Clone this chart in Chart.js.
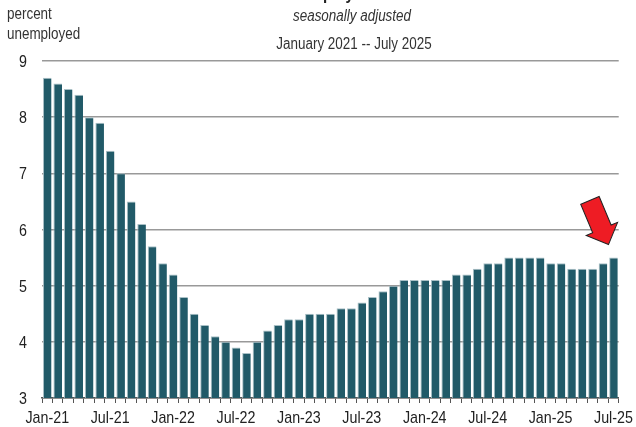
<!DOCTYPE html>
<html>
<head>
<meta charset="utf-8">
<script src="https://cdn.jsdelivr.net/npm/chart.js@4.4.1/dist/chart.umd.min.js"></script>
<style>
  html, body { margin: 0; padding: 0; background: #fff; }
  #wrap { width: 636px; height: 427px; position: relative; }
</style>
</head>
<body>
<div id="wrap"><canvas id="myChart" width="636" height="427"></canvas></div>
<script>
const FONT = "'Liberation Sans', Arial, sans-serif";
const NARROW = 0.84; // squeeze factor to imitate a narrow face

// monthly labels Jan-21 .. Jul-25
const months = ["Jan", "Feb", "Mar", "Apr", "May", "Jun", "Jul", "Aug", "Sep", "Oct", "Nov", "Dec"];
const years = ["21", "22", "23", "24", "25"];
const labels = [];
years.forEach(y => months.forEach(m => labels.push(m + "-" + y)));
labels.length = 55;

// unemployment rate, percent
const rates = [
  8.7, 8.6, 8.5, 8.4, 8.0, 7.9, 7.4, 7.0, 6.5, 6.1, 5.7, 5.4,
  5.2, 4.8, 4.5, 4.3, 4.1, 4.0, 3.9, 3.8, 4.0, 4.2, 4.3, 4.4,
  4.4, 4.5, 4.5, 4.5, 4.6, 4.6, 4.7, 4.8, 4.9, 5.0, 5.1, 5.1,
  5.1, 5.1, 5.1, 5.2, 5.2, 5.3, 5.4, 5.4, 5.5, 5.5, 5.5, 5.5,
  5.4, 5.4, 5.3, 5.3, 5.3, 5.4, 5.5
];

const yTicks = [3, 4, 5, 6, 7, 8, 9];

const ctx = document.getElementById("myChart").getContext("2d");

function narrowText(c, text, x, y, align, font) {
  c.save();
  c.font = font;
  c.textAlign = align;
  c.translate(x, y);
  c.scale(NARROW, 1);
  c.fillText(text, 0, 0);
  c.restore();
}

// texts (narrow look) and the red arrow on the latest month
const decor = {
  id: "decor",
  afterDraw(chart) {
    const c = chart.ctx;
    const mid = 354;
    c.save();
    c.textBaseline = "alphabetic";
    c.fillStyle = "#222";
    narrowText(c, "Unemployment Rate", mid, -1, "center", "bold 18px " + FONT);
    c.fillStyle = "#333";
    narrowText(c, "seasonally adjusted", mid - 2, 21, "center", "italic 16px " + FONT);
    narrowText(c, "January 2021 -- July 2025", mid, 49, "center", "16px " + FONT);
    narrowText(c, "percent", 7, 19, "left", "16px " + FONT);
    narrowText(c, "unemployed", 7, 39, "left", "16px " + FONT);

    c.fillStyle = "#222";
    const xs = chart.scales.x, ys = chart.scales.y;
    labels.forEach((l, i) => {
      if (i % 6 === 0) narrowText(c, l, xs.getPixelForValue(i), 423, "center", "17px " + FONT);
    });
    yTicks.forEach(v => {
      narrowText(c, String(v), 27, ys.getPixelForValue(v) + 6, "right", "17px " + FONT);
    });

    // arrow
    const bar = chart.getDatasetMeta(0).data[rates.length - 1];
    const tipX = bar.x - 5, tipY = bar.y - 13;
    const ang = Math.atan2(43, 18);
    c.translate(tipX, tipY);
    c.rotate(ang - Math.PI / 2);
    c.beginPath();
    c.moveTo(0, 0);
    c.lineTo(-17, -17);
    c.lineTo(-10, -17);
    c.lineTo(-10, -48);
    c.lineTo(10, -48);
    c.lineTo(10, -17);
    c.lineTo(17, -17);
    c.closePath();
    c.fillStyle = "#ee1c24";
    c.fill();
    c.strokeStyle = "#222";
    c.lineWidth = 1;
    c.stroke();
    c.restore();
  }
};

const chart = new Chart(ctx, {
  type: "bar",
  data: {
    labels: labels,
    datasets: [
      {
        data: rates,
        backgroundColor: "#215a68",
        borderColor: "#a9c0c6",
        borderWidth: { top: 1, left: 1, right: 0, bottom: 0 },
        borderSkipped: false,
        barPercentage: 0.82,
        categoryPercentage: 1.0,
      },
    ],
  },
  options: {
    responsive: false,
    animation: false,
    layout: { padding: { top: 61, right: 11, left: 0, bottom: 2 } },
    plugins: {
      legend: { display: false },
      tooltip: { enabled: false },
    },
    scales: {
      x: {
        offset: true,
        grid: {
          offset: true,
          drawOnChartArea: false,
          drawTicks: true,
          tickLength: 5,
          color: "#555",
        },
        border: { display: true, color: "#555", width: 1.5 },
        ticks: {
          autoSkip: false,
          maxRotation: 0,
          padding: 2,
          color: "rgba(0,0,0,0)",
          font: { family: FONT, size: 15 },
          callback: (v, i) => (i % 6 === 0 ? labels[i] : ""),
        },
      },
      y: {
        min: 3,
        max: 9,
        afterFit: (s) => { s.width = 42; },
        afterBuildTicks: (s) => { s.ticks = yTicks.map(v => ({ value: v })); },
        grid: { drawTicks: false, color: "#999", lineWidth: 1.5 },
        border: { display: false },
        ticks: {
          padding: 14,
          color: "rgba(0,0,0,0)",
          font: { family: FONT, size: 16 },
        },
      },
    },
  },
  plugins: [decor],
});
</script>
</body>
</html>
